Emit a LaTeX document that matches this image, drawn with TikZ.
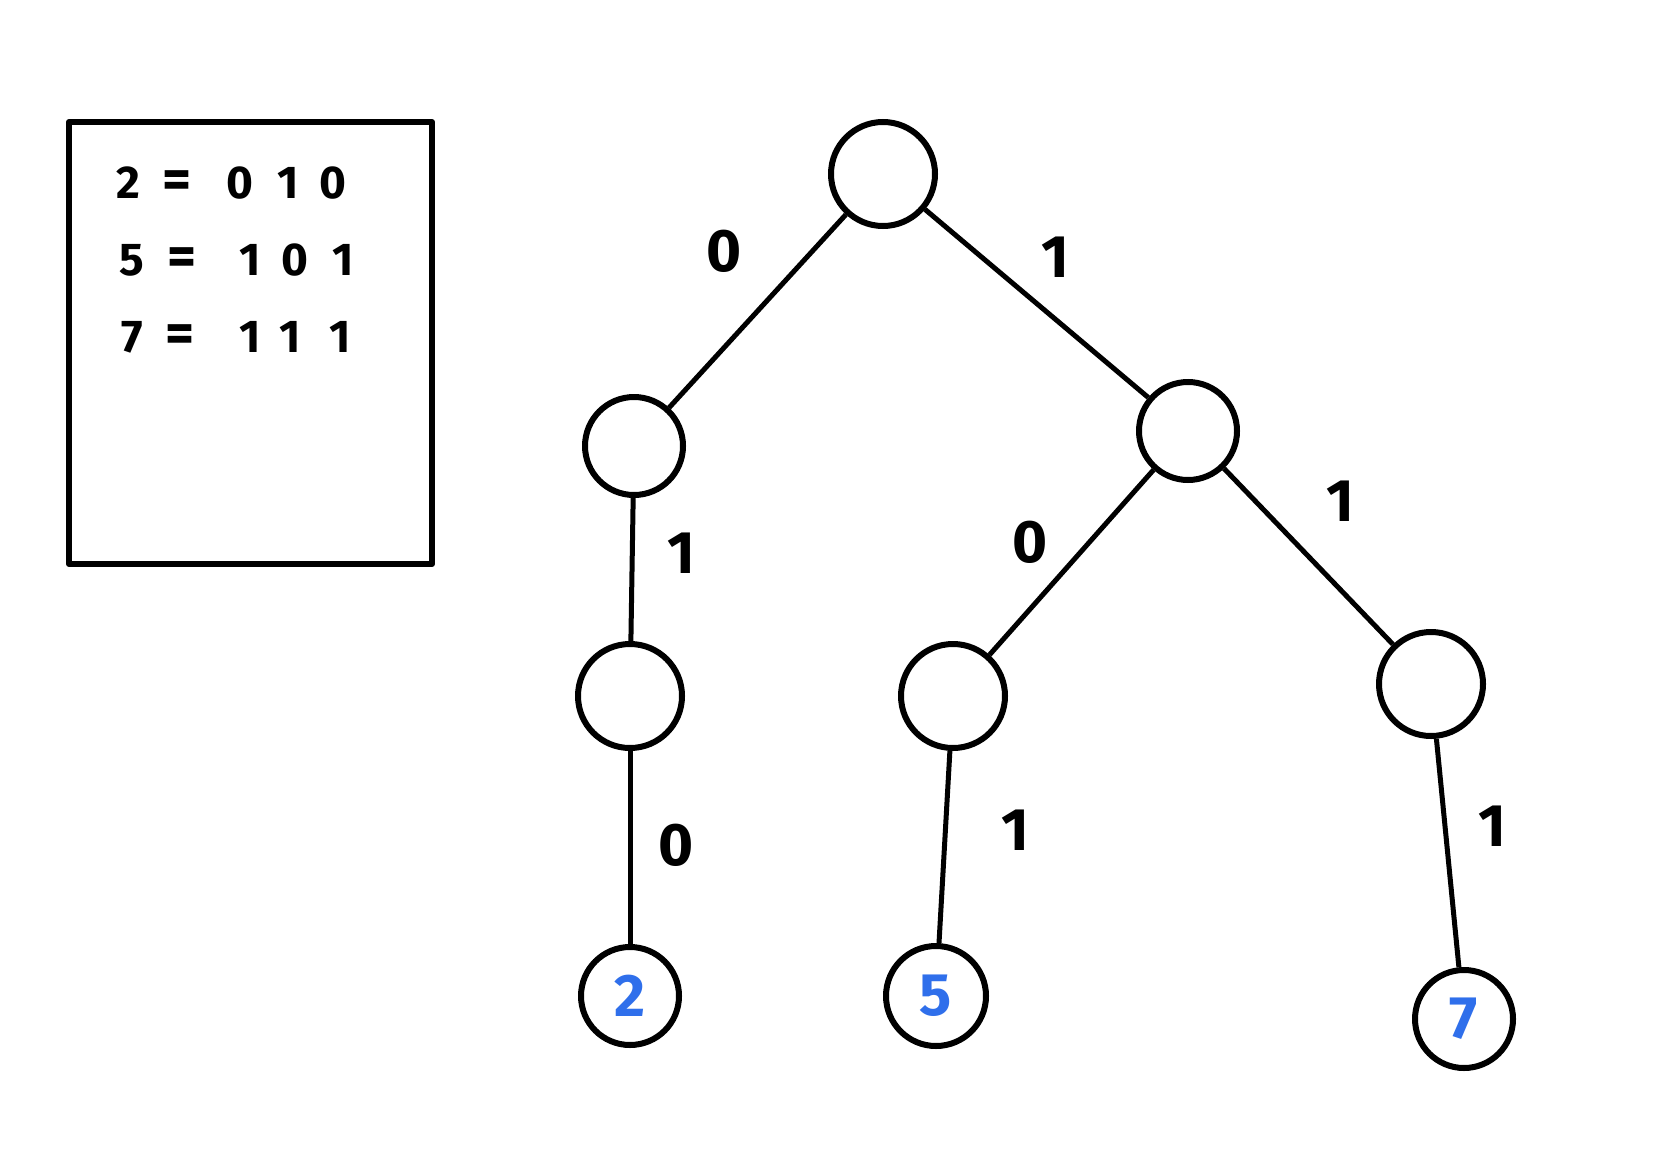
\documentclass[tikz,border=0pt]{standalone}
\usepackage{fontspec}
\setmainfont{Fira Sans}
\definecolor{leafblue}{RGB}{47,111,235}
\begin{document}
\begin{tikzpicture}[x=1pt,y=-1pt,
  tn/.style={circle,draw=black,line width=6pt,fill=white,inner sep=0pt,minimum size=100pt},
  leaf/.style={tn,text=leafblue,font=\fontsize{60}{66}\selectfont\bfseries},
  edge/.style={draw=black,line width=5pt},
  elab/.style={inner sep=0pt,font=\fontsize{60}{66}\selectfont\bfseries},
  btxt/.style={inner sep=0pt,font=\fontsize{46}{50}\selectfont\bfseries},
  beq/.style={btxt,font=\fontsize{56}{60}\selectfont\bfseries}]
\useasboundingbox (0,0) rectangle (1656,1153);
\fill[white] (0,0) rectangle (1656,1153);
% legend box
\draw[line width=6pt,line join=round] (69,122) rectangle (432,564);
\node[btxt] (a1) at (128,183) {2};
\node[beq] (a2) at (177,185) {=};
\node[btxt] (a3) at (240,183) {0};
\node[btxt] (a4) at (288,183) {1};
\node[btxt] (a5) at (333,183) {0};
\node[btxt] (b1) at (132,260) {5};
\node[beq] (b2) at (182,262) {=};
\node[btxt] (b3) at (250,260) {1};
\node[btxt] (b4) at (295,260) {0};
\node[btxt] (b5) at (343,260) {1};
\node[btxt] (c1) at (132,337) {7};
\node[beq] (c2) at (180,339) {=};
\node[btxt] (c3) at (250,337) {1};
\node[btxt] (c4) at (290,337) {1};
\node[btxt] (c5) at (340,337) {1};
% tree nodes
\node[tn,minimum size=104pt] (root) at (883,174) {};
\node[tn,minimum size=98pt] (l) at (634,446) {};
\node[tn,minimum size=98pt] (r) at (1188,431) {};
\node[tn,minimum size=104pt] (ll) at (630,696) {};
\node[tn,minimum size=104pt] (rl) at (953,696) {};
\node[tn,minimum size=104pt] (rr) at (1431,684) {};
\node[leaf,minimum size=98pt] (n2) at (630,996) {2};
\node[leaf,minimum size=100pt] (n5) at (936,996) {5};
\node[leaf,minimum size=98pt] (n7) at (1464,1019) {7};
% edges
\draw[edge] (root) -- (l);
\draw[edge] (root) -- (r);
\draw[edge] (l) -- (ll);
\draw[edge] (ll) -- (n2);
\draw[edge] (r) -- (rl);
\draw[edge] (r) -- (rr);
\draw[edge] (rl) -- (n5);
\draw[edge] (rr) -- (n7);
% edge labels
\node[elab] (e1) at (724,251) {0};
\node[elab] (e2) at (1055,257) {1};
\node[elab] (e3) at (681,553) {1};
\node[elab] (e4) at (1030,542) {0};
\node[elab] (e5) at (1340,501) {1};
\node[elab] (e6) at (676,845) {0};
\node[elab] (e7) at (1015,830) {1};
\node[elab] (e8) at (1492,826) {1};
\end{tikzpicture}
\end{document}
